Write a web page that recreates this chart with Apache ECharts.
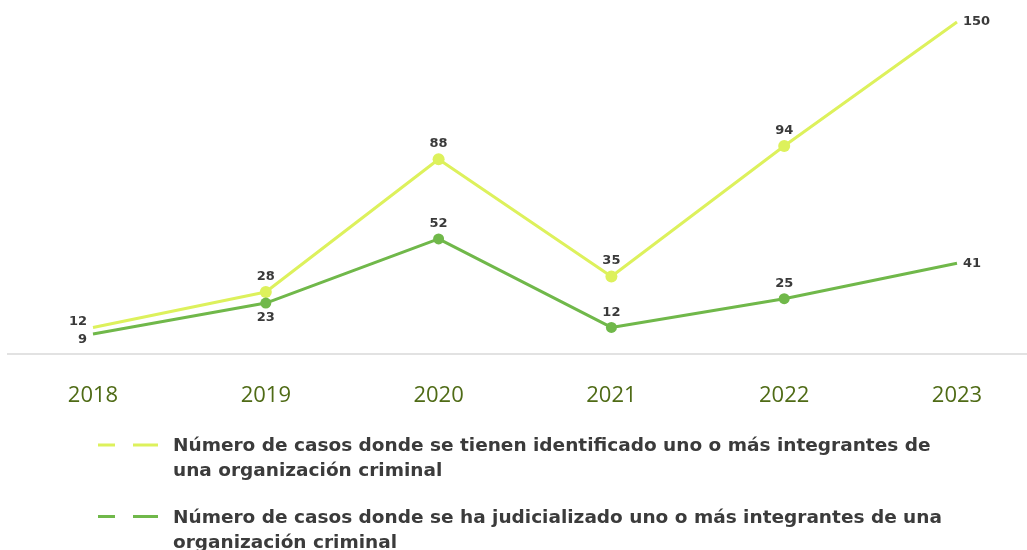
<!DOCTYPE html>
<html>
<head>
<meta charset="utf-8">
<style>html,body{margin:0;padding:0;background:#fff;}#c{width:1027px;height:550px;}</style>
<script src="https://cdn.jsdelivr.net/npm/echarts@6/dist/echarts.min.js"></script>
</head>
<body>
<div id="c"></div>
<script>
const years = ['2018', '2019', '2020', '2021', '2022', '2023'];
const identificados = [12, 28, 88, 35, 94, 150];
const judicializados = [9, 23, 52, 12, 25, 41];
const seriesNames = [
  'Número de casos donde se tienen identificado uno o más integrantes de\nuna organización criminal',
  'Número de casos donde se ha judicializado uno o más integrantes de una\norganización criminal'
];

const YELLOW = '#ddf15c';
const GREEN = '#70b84a';
const last = years.length - 1;

function build(values, opts) {
  return values.map((v, i) => {
    const item = { value: v };
    if (i === 0 || i === last) item.symbolSize = 0;
    const lp = opts[i];
    if (lp) item.label = lp;
    return item;
  });
}

const yLabels = {
  0: { position: 'left', offset: [0, -6], distance: 6 },
  5: { position: 'right', distance: 6 }
};
const gLabels = {
  0: { position: 'left', offset: [0, 6], distance: 6 },
  1: { position: 'bottom', distance: 3 },
  5: { position: 'right', distance: 6 }
};

const valueLabel = { show: true, position: 'top', distance: 3, color: '#3a3a3a', fontFamily: 'DejaVu Sans', fontWeight: 'bold', fontSize: 13 };

const GRID = { left: 93, right: 70, top: 22, bottom: 196 };

const chart = echarts.init(document.getElementById('c'), null, { renderer: 'canvas' });
chart.setOption({
  backgroundColor: '#ffffff',
  animation: false,
  grid: Object.assign({ containLabel: false }, GRID),
  graphic: [{
    type: 'line',
    z: 0,
    shape: { x1: 7, y1: 550 - GRID.bottom, x2: 1027, y2: 550 - GRID.bottom },
    style: { stroke: '#e2e2e2', lineWidth: 2 }
  }],
  xAxis: {
    type: 'category',
    data: years,
    boundaryGap: false,
    axisLine: { show: false },
    axisTick: { show: false },
    axisLabel: { color: '#4f6b16', fontFamily: 'Open Sans', fontSize: 22, margin: 31 },
    splitLine: { show: false }
  },
  yAxis: { type: 'value', min: 0, max: 150, show: false },
  legend: {
    orient: 'vertical',
    left: 98,
    top: 434,
    height: 200,
    padding: 0,
    itemGap: 21.5,
    itemWidth: 70,
    itemHeight: 31,
    icon: 'path://M0,0h17v3h-17z M35,0h25v3h-25z M69.9,30.9h0.1v0.1h-0.1z',
    textStyle: { fontFamily: 'DejaVu Sans', fontWeight: 'bold', fontSize: 18.5, color: '#3b3b3b', lineHeight: 25 },
    data: seriesNames
  },
  series: [
    {
      name: seriesNames[0],
      type: 'line',
      data: build(identificados, yLabels),
      color: YELLOW,
      lineStyle: { width: 3, color: YELLOW },
      symbol: 'circle',
      symbolSize: 12,
      itemStyle: { color: YELLOW },
      label: valueLabel,
      z: 2
    },
    {
      name: seriesNames[1],
      type: 'line',
      data: build(judicializados, gLabels),
      color: GREEN,
      lineStyle: { width: 3, color: GREEN },
      symbol: 'circle',
      symbolSize: 11,
      itemStyle: { color: GREEN },
      label: valueLabel,
      z: 3
    }
  ]
});
</script>
</body>
</html>
